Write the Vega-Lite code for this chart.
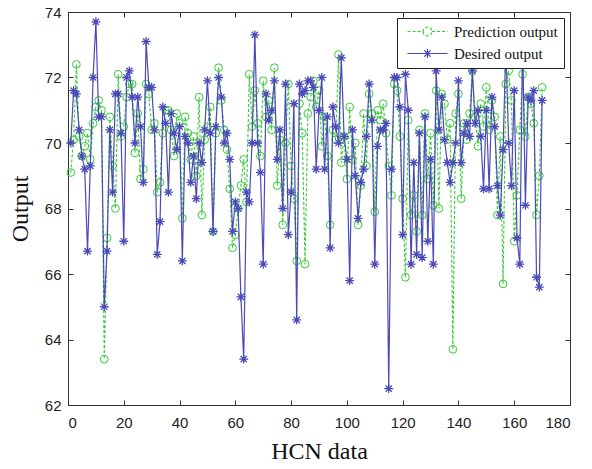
{
"$schema":"https://vega.github.io/schema/vega-lite/v6.json",
"width":502,"height":393,
"autosize":{"type":"none"},
"padding":{"left":68,"top":12,"right":22,"bottom":64},
"background":"white",
"data":{"values":[
{"x":1,"p":69.1,"d":70.0},{"x":2,"p":70.1,"d":71.6},{"x":3,"p":72.4,"d":71.5},{"x":4,"p":70.2,"d":70.4},{"x":5,"p":69.6,"d":69.6},
{"x":6,"p":69.9,"d":69.2},{"x":7,"p":70.3,"d":66.7},{"x":8,"p":69.5,"d":69.3},{"x":9,"p":70.6,"d":72.0},{"x":10,"p":71.1,"d":73.7},
{"x":11,"p":71.3,"d":70.8},{"x":12,"p":71.0,"d":70.8},{"x":13,"p":63.4,"d":65.0},{"x":14,"p":67.1,"d":66.7},{"x":15,"p":70.8,"d":70.4},
{"x":16,"p":69.3,"d":68.5},{"x":17,"p":68.0,"d":71.5},{"x":18,"p":72.1,"d":71.5},{"x":19,"p":70.2,"d":70.3},{"x":20,"p":70.5,"d":67.0},
{"x":21,"p":71.4,"d":72.0},{"x":22,"p":71.8,"d":72.2},{"x":23,"p":71.8,"d":71.4},{"x":24,"p":69.7,"d":70.0},{"x":25,"p":70.9,"d":71.4},
{"x":26,"p":68.9,"d":70.5},{"x":27,"p":69.2,"d":68.8},{"x":28,"p":71.8,"d":73.1},{"x":29,"p":71.5,"d":71.7},{"x":30,"p":70.4,"d":71.7},
{"x":31,"p":70.6,"d":70.4},{"x":32,"p":68.5,"d":66.6},{"x":33,"p":68.8,"d":67.6},{"x":34,"p":70.3,"d":71.1},{"x":35,"p":71.0,"d":70.6},
{"x":36,"p":71.0,"d":68.5},{"x":37,"p":70.4,"d":70.9},{"x":38,"p":69.6,"d":70.3},{"x":39,"p":70.9,"d":69.8},{"x":40,"p":70.6,"d":70.5},
{"x":41,"p":67.7,"d":66.4},{"x":42,"p":70.8,"d":70.2},{"x":43,"p":70.3,"d":70.0},{"x":44,"p":69.5,"d":68.8},{"x":45,"p":70.2,"d":69.6},
{"x":46,"p":69.0,"d":68.3},{"x":47,"p":71.4,"d":70.0},{"x":48,"p":67.8,"d":69.4},{"x":49,"p":70.1,"d":70.4},{"x":50,"p":70.5,"d":71.9},
{"x":51,"p":71.1,"d":70.3},{"x":52,"p":67.3,"d":67.3},{"x":53,"p":70.3,"d":70.5},{"x":54,"p":72.3,"d":72.0},{"x":55,"p":71.3,"d":71.4},
{"x":56,"p":70.4,"d":70.0},{"x":57,"p":69.8,"d":70.3},{"x":58,"p":68.6,"d":69.5},{"x":59,"p":66.8,"d":67.3},{"x":60,"p":67.2,"d":68.2},
{"x":61,"p":68.0,"d":68.0},{"x":62,"p":68.7,"d":65.3},{"x":63,"p":69.5,"d":63.4},{"x":64,"p":68.2,"d":68.5},{"x":65,"p":72.1,"d":68.2},
{"x":66,"p":70.5,"d":70.0},{"x":67,"p":71.6,"d":73.3},{"x":68,"p":70.6,"d":70.0},{"x":69,"p":69.6,"d":69.1},{"x":70,"p":71.9,"d":66.3},
{"x":71,"p":70.8,"d":71.5},{"x":72,"p":71.3,"d":70.7},{"x":73,"p":70.4,"d":71.0},{"x":74,"p":72.3,"d":71.9},{"x":75,"p":68.7,"d":69.5},
{"x":76,"p":70.1,"d":70.4},{"x":77,"p":67.5,"d":68.0},{"x":78,"p":70.0,"d":71.8},{"x":79,"p":71.8,"d":67.2},{"x":80,"p":69.3,"d":68.5},
{"x":81,"p":68.3,"d":71.2},{"x":82,"p":66.4,"d":64.6},{"x":83,"p":71.2,"d":71.8},{"x":84,"p":70.3,"d":71.5},{"x":85,"p":66.3,"d":71.6},
{"x":86,"p":70.9,"d":71.9},{"x":87,"p":71.4,"d":71.9},{"x":88,"p":71.9,"d":71.7},{"x":89,"p":71.1,"d":69.2},{"x":90,"p":71.6,"d":71.0},
{"x":91,"p":69.9,"d":72.0},{"x":92,"p":70.8,"d":69.2},{"x":93,"p":69.6,"d":70.8},{"x":94,"p":67.5,"d":66.8},{"x":95,"p":70.4,"d":71.1},
{"x":96,"p":70.1,"d":70.5},{"x":97,"p":72.7,"d":70.0},{"x":98,"p":69.4,"d":72.6},{"x":99,"p":70.2,"d":70.2},{"x":100,"p":68.9,"d":69.5},
{"x":101,"p":71.1,"d":65.8},{"x":102,"p":69.5,"d":70.4},{"x":103,"p":70.0,"d":69.0},{"x":104,"p":67.5,"d":67.7},{"x":105,"p":68.7,"d":68.8},
{"x":106,"p":70.9,"d":69.2},{"x":107,"p":69.3,"d":70.2},{"x":108,"p":71.5,"d":71.8},{"x":109,"p":70.9,"d":70.7},{"x":110,"p":67.9,"d":66.3},
{"x":111,"p":71.0,"d":69.9},{"x":112,"p":70.7,"d":70.4},{"x":113,"p":71.2,"d":70.4},{"x":114,"p":70.3,"d":70.6},{"x":115,"p":69.3,"d":62.5},
{"x":116,"p":68.4,"d":69.2},{"x":117,"p":71.8,"d":72.0},{"x":118,"p":71.6,"d":72.0},{"x":119,"p":70.2,"d":71.1},{"x":120,"p":68.3,"d":67.2},
{"x":121,"p":65.9,"d":72.1},{"x":122,"p":70.7,"d":71.0},{"x":123,"p":67.8,"d":66.3},{"x":124,"p":68.4,"d":69.4},{"x":125,"p":67.3,"d":66.6},
{"x":126,"p":70.4,"d":70.3},{"x":127,"p":67.8,"d":66.5},{"x":128,"p":70.9,"d":70.8},{"x":129,"p":68.9,"d":67.0},{"x":130,"p":70.3,"d":69.5},
{"x":131,"p":68.1,"d":66.3},{"x":132,"p":71.6,"d":72.2},{"x":133,"p":68.0,"d":70.4},{"x":134,"p":71.5,"d":71.4},{"x":135,"p":71.2,"d":70.1},
{"x":136,"p":70.1,"d":69.4},{"x":137,"p":70.6,"d":68.8},{"x":138,"p":63.7,"d":69.4},{"x":139,"p":70.9,"d":70.0},{"x":140,"p":71.5,"d":71.9},
{"x":141,"p":68.3,"d":69.4},{"x":142,"p":70.6,"d":70.3},{"x":143,"p":70.1,"d":70.6},{"x":144,"p":70.9,"d":70.2},{"x":145,"p":72.2,"d":72.2},
{"x":146,"p":70.8,"d":70.6},{"x":147,"p":69.9,"d":71.0},{"x":148,"p":71.2,"d":70.2},{"x":149,"p":70.5,"d":68.6},{"x":150,"p":71.7,"d":71.0},
{"x":151,"p":70.4,"d":68.6},{"x":152,"p":71.3,"d":71.4},{"x":153,"p":70.8,"d":70.5},{"x":154,"p":67.8,"d":68.7},{"x":155,"p":70.2,"d":67.8},
{"x":156,"p":65.7,"d":69.8},{"x":157,"p":71.8,"d":73.0},{"x":158,"p":72.2,"d":70.0},{"x":159,"p":71.3,"d":68.7},{"x":160,"p":67.0,"d":71.6},
{"x":161,"p":68.4,"d":67.1},{"x":162,"p":70.4,"d":66.3},{"x":163,"p":72.1,"d":73.2},{"x":164,"p":70.2,"d":68.1},{"x":165,"p":71.4,"d":71.4},
{"x":166,"p":71.2,"d":71.3},{"x":167,"p":70.6,"d":71.6},{"x":168,"p":67.8,"d":65.9},{"x":169,"p":69.0,"d":65.6},{"x":170,"p":71.7,"d":71.3}
]},
"transform":[{"fold":["p","d"],"as":["series","val"]}],
"resolve":{"axis":{"x":"independent","y":"independent"}},
"layer":[
 {
  "encoding":{
   "x":{"field":"x","type":"quantitative","scale":{"domain":[0,180],"nice":false,"zero":false},
        "axis":{"orient":"bottom","values":[0,20,40,60,80,100,120,140,160,180],"format":"d","title":"HCN data","labelPadding":15,"titlePadding":9}},
   "y":{"field":"val","type":"quantitative","scale":{"domain":[62,74],"nice":false,"zero":false},
        "axis":{"orient":"left","values":[62,64,66,68,70,72,74],"format":"d","title":"Output","labelPadding":12,"titlePadding":12}},
   "color":{"field":"series","type":"nominal",
     "scale":{"domain":["p","d"],"range":["#33cc33","#4a4ab8"]},
     "legend":{"title":null,"orient":"top-right","offset":6,"fillColor":"white","strokeColor":"#222","padding":6,
       "labelFont":"Liberation Serif","labelFontSize":15,"labelColor":"#111","symbolSize":100,"labelOffset":36,"rowPadding":6,
       "labelExpr":"datum.value == 'p' ? 'Prediction output' : 'Desired output'",
       "encode":{"symbols":{"update":{
         "shape":{"signal":"datum.value == 'p' ? 'M-0.6,0H2.5M4.3,0H7.4M2.5,0A0.9,0.9,0,1,0,4.3,0A0.9,0.9,0,1,0,2.5,0' : 'M-0.6,0H7.4M3.4,-0.9V0.9M2.76,-0.64L4.04,0.64M2.76,0.64L4.04,-0.64'"},
         "strokeDash":{"signal":"datum.value == 'p' ? [3,2] : [1,0]"},
         "fill":{"value":"transparent"},
         "stroke":{"signal":"datum.value == 'p' ? '#33cc33' : '#4a4ab8'"},
         "strokeWidth":{"value":1.2},
         "opacity":{"value":1}
       }}}}}
  },
  "layer":[
   {"transform":[{"filter":"datum.series == 'p'"}],"mark":{"type":"line","strokeWidth":1.1,"strokeDash":[3,2]}},
   {"transform":[{"filter":"datum.series == 'p'"}],"mark":{"type":"point","shape":"circle","size":60,"filled":false,"strokeWidth":1,"opacity":1}},
   {"transform":[{"filter":"datum.series == 'd'"}],"mark":{"type":"line","strokeWidth":1.2}},
   {"transform":[{"filter":"datum.series == 'd'"}],"mark":{"type":"point","shape":"M-1,0H1M0,-1V1M-0.7,-0.7L0.7,0.7M-0.7,0.7L0.7,-0.7","size":80,"filled":false,"strokeWidth":1.3,"opacity":1}}
  ]
 },
 {
  "mark":{"type":"point","opacity":0},
  "encoding":{
   "x":{"field":"x","type":"quantitative","axis":{"orient":"top","values":[0,20,40,60,80,100,120,140,160,180],"labels":false,"title":null,"domain":false}},
   "y":{"field":"val","type":"quantitative","axis":{"orient":"right","values":[62,64,66,68,70,72,74],"labels":false,"title":null,"domain":false}}
  }
 }
],
"config":{
 "view":{"stroke":"#333","strokeWidth":1},
 "axis":{"grid":false,"domainColor":"#333","tickColor":"#333","tickSize":-5,"labelFont":"Liberation Sans","labelFontSize":15,"labelColor":"#222","labelPadding":7,
   "titleFont":"Liberation Serif","titleFontSize":24,"titleFontWeight":"normal","titleColor":"#111"}
}
}
